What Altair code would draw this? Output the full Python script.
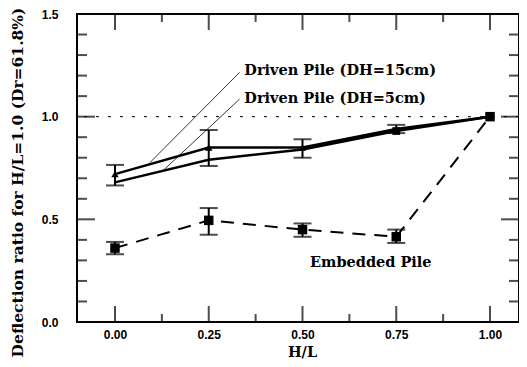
import altair as alt
import pandas as pd

hl = [0.0, 0.25, 0.5, 0.75, 1.0]
dh15 = [0.72, 0.85, 0.85, 0.94, 1.0]
dh5 = [0.68, 0.79, 0.84, 0.93, 1.0]
drv_lo = [0.665, 0.76, 0.80, 0.92]
drv_hi = [0.765, 0.935, 0.89, 0.96]
emb = [0.36, 0.495, 0.45, 0.415, 1.0]
emb_lo = [0.33, 0.425, 0.415, 0.385]
emb_hi = [0.39, 0.555, 0.48, 0.45]

x_major = [0.0, 0.25, 0.5, 0.75, 1.0]
x_minor = [0.125, 0.375, 0.625, 0.875]
y_major = [0.5, 1.0]
y_minor = [0.1, 0.2, 0.3, 0.4, 0.6, 0.7, 0.8, 0.9, 1.1, 1.2, 1.3, 1.4]

labels = ["Driven Pile (DH=15cm)", "Driven Pile (DH=5cm)", "Embedded Pile"]
label_x = [0.345, 0.345, 0.52]
label_y = [1.22, 1.085, 0.288]
lead_x = [0.332, 0.332]
lead_y = [1.215, 1.085]
lead_x2 = [0.093, 0.125]
lead_y2 = [0.776, 0.732]

W, H = 442, 308
xs = alt.Scale(domain=[-0.1013, 1.0773], nice=False, zero=False)
ys = alt.Scale(domain=[0.0, 1.5], nice=False, zero=False)

X = alt.X("hl:Q", scale=xs, axis=alt.Axis(
    title="H/L", values=x_major, format=".2f", ticks=False, domain=False, grid=False,
    labelFont="Liberation Sans", labelFontWeight="bold", labelFontSize=12, labelColor="black",
    labelPadding=7, titleFont="DejaVu Serif", titleFontWeight="bold", titleFontSize=14.5,
    titleColor="black", titleX=225, titleY=30, titleBaseline="middle"))
Y = alt.Y("v:Q", scale=ys, axis=alt.Axis(
    title="Deflection ratio for H/L=1.0 (Dr=61.8%)", values=[0.0, 0.5, 1.0, 1.5], format=".1f",
    ticks=False, domain=False, grid=False,
    labelFont="Liberation Sans", labelFontWeight="bold", labelFontSize=12, labelColor="black",
    labelPadding=19, titleFont="DejaVu Serif", titleFontWeight="bold", titleFontSize=15.5,
    titleColor="black", titleX=-52, titleY=168))

lines = pd.DataFrame({
    "hl": hl * 3,
    "v": dh15 + dh5 + emb,
    "s": ["a"] * 5 + ["b"] * 5 + ["c"] * 5,
})
err = pd.DataFrame({"hl": hl[:4] * 2, "v": drv_lo + emb_lo, "v2": drv_hi + emb_hi})
caps = pd.DataFrame({"hl": hl[:4] * 4, "v": drv_lo + drv_hi + emb_lo + emb_hi})

ref = alt.Chart(pd.DataFrame({"v": [1.0]})).mark_rule(
    color="black", strokeWidth=1, strokeDash=[3, 9]).encode(y=Y)

driven = alt.Chart(lines[lines.s != "c"]).mark_line(
    color="black", strokeWidth=2.5).encode(x=X, y=Y, detail="s:N")
embl = alt.Chart(lines[lines.s == "c"]).mark_line(
    color="black", strokeWidth=2, strokeDash=[13, 9]).encode(x=X, y=Y)

ebar = alt.Chart(err).mark_rule(color="black", strokeWidth=2).encode(x=X, y=Y, y2="v2:Q")
cap = alt.Chart(caps).mark_tick(color="black", thickness=2, size=18, orient="horizontal").encode(x=X, y=Y)

tri = alt.Chart(pd.DataFrame({"hl": hl[:4], "v": dh15[:4]})).mark_point(
    shape="triangle-up", filled=True, color="black", size=55, opacity=1).encode(x=X, y=Y)
sq = alt.Chart(pd.DataFrame({"hl": hl, "v": emb[:4] + [1.0]})).mark_point(
    shape="square", filled=True, color="black", size=90, opacity=1).encode(x=X, y=Y)
sq2 = alt.Chart(pd.DataFrame({"hl": [0.75], "v": [dh5[3]]})).mark_point(
    shape="square", filled=True, color="black", size=60, opacity=1).encode(x=X, y=Y)

txt = alt.Chart(pd.DataFrame({"t": labels, "hl": label_x, "v": label_y})).mark_text(
    align="left", baseline="middle", font="DejaVu Serif", fontWeight="bold",
    fontSize=14.5, color="black").encode(x=X, y=Y, text="t:N")
lead = alt.Chart(pd.DataFrame({"hl": lead_x, "v": lead_y, "hl2": lead_x2, "v2": lead_y2})).mark_rule(
    color="black", strokeWidth=0.8).encode(x=X, y=Y, x2="hl2:Q", y2="v2:Q")

def xt(vals, size, top):
    return alt.Chart(pd.DataFrame({"hl": vals})).mark_tick(
        color="black", thickness=2, size=size, orient="vertical").encode(
        x=X, y=alt.value(size / 2 if top else H - size / 2))

def yt(vals, size, right):
    return alt.Chart(pd.DataFrame({"v": vals})).mark_tick(
        color="black", thickness=2, size=size, orient="horizontal").encode(
        y=Y, x=alt.value(W - size / 2 if right else size / 2))

ticks = [xt(x_major, 16, False), xt(x_major, 16, True), xt(x_minor, 8, False), xt(x_minor, 8, True),
         yt(y_major, 18, False), yt(y_major, 18, True), yt(y_minor, 10, False), yt(y_minor, 10, True)]

chart = alt.layer(driven, ref, embl, ebar, cap, tri, sq, sq2, lead, txt, *ticks).properties(
    width=W, height=H,
    autosize=alt.AutoSizeParams(type="none"),
    padding={"left": 69, "top": 6, "right": 0, "bottom": 37},
).configure_view(stroke="black", strokeWidth=2)

chart.save("out.html", embed_options={"renderer": "svg", "actions": False})
